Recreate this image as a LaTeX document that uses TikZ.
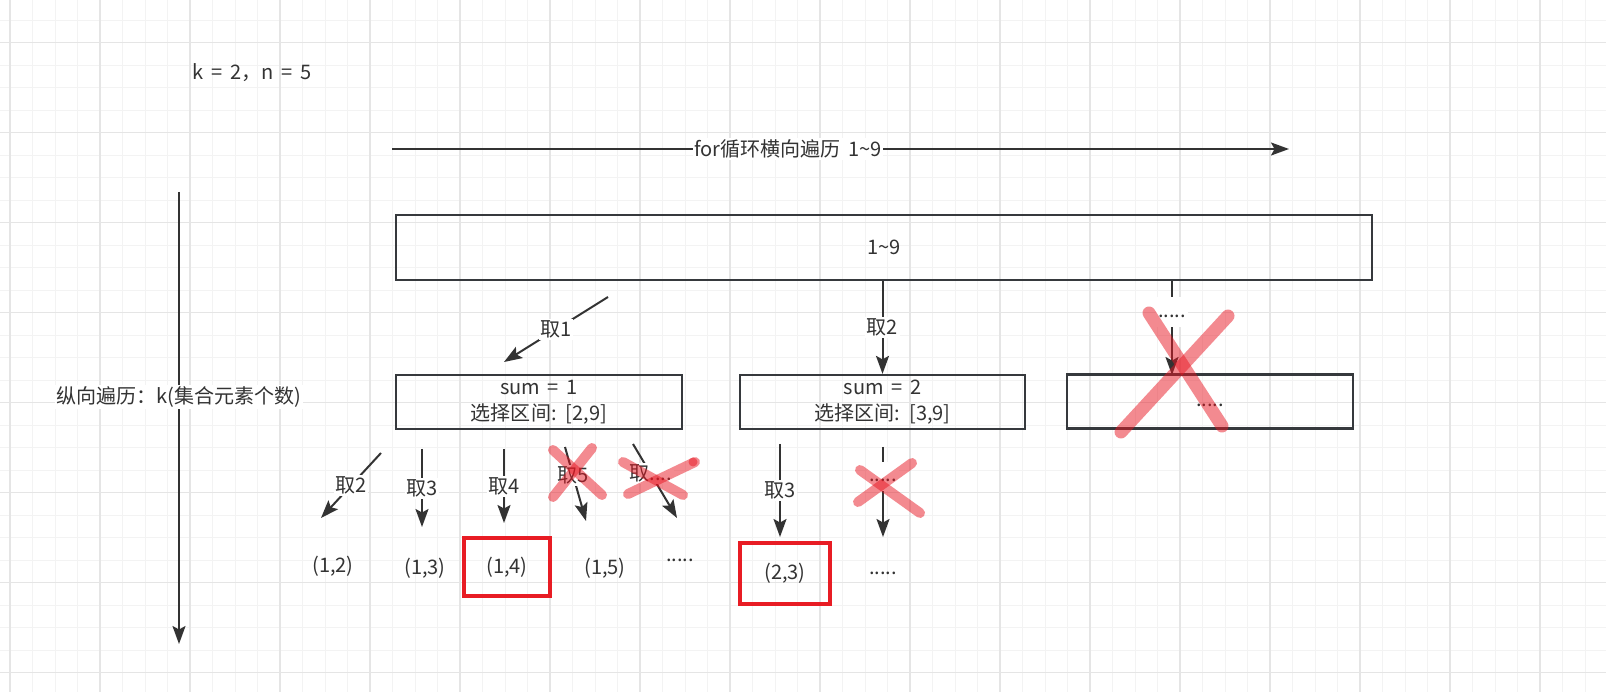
\documentclass[tikz,border=0pt]{standalone}
\usepackage{fontspec}
\setmainfont[WordSpace=1.7]{Noto Sans CJK SC}
\usetikzlibrary{arrows.meta}
\definecolor{InkGray}{RGB}{51,51,51}
\definecolor{EdgeGray}{RGB}{54,57,61}
\definecolor{GridLight}{RGB}{243,243,243}
\definecolor{GridMid}{RGB}{229,229,229}
\definecolor{MarkRed}{RGB}{232,28,36}
\definecolor{StrikeRed}{RGB}{232,22,34}

\begin{document}
\begin{tikzpicture}[x=0.02cm, y=-0.02cm, font=\fontsize{11.4}{14.8}\selectfont,
    box/.style={draw=EdgeGray, line width=0.045cm, minimum width=5.72cm, minimum height=1.08cm, align=center, inner sep=0pt, text=InkGray},
    chosen/.style={draw=MarkRed, line width=0.08cm, minimum width=1.72cm, minimum height=1.16cm, text=InkGray},
    result/.style={text=InkGray},
    flow/.style={draw=InkGray, line width=0.04cm, -{Stealth[length=0.36cm, width=0.26cm, inset=0.07cm]}},
    tag/.style={fill=white, inner sep=1pt, text=InkGray},
    strike/.style={draw=StrikeRed, draw opacity=0.5, line width=0.26cm, line cap=round},
    smallstrike/.style={strike, line width=0.2cm}]
  \useasboundingbox (0,0) rectangle (1606,692);
  \fill[white] (0,0) rectangle (1606,692);
  \foreach \i in {0,...,70}
    \draw[GridLight, line width=0.02cm] (10+22.5*\i,0) -- (10+22.5*\i,692);
  \foreach \j in {0,...,29}
    \draw[GridLight, line width=0.02cm] (0,20.2+22.5*\j) -- (1606,20.2+22.5*\j);
  \foreach \i in {0,...,17}
    \draw[GridMid, line width=0.03cm] (10+90*\i,0) -- (10+90*\i,692);
  \foreach \j in {0,...,7}
    \draw[GridMid, line width=0.03cm] (0,42.7+90*\j) -- (1606,42.7+90*\j);

  \node[result] (params) at (252,73) {k = 2，n = 5};

  \coordinate (acrossfrom) at (392,149);
  \coordinate (acrossto) at (1289,149);
  \draw[flow] (acrossfrom) -- node[tag, pos=0.4415] (acrosslbl) {for循环横向遍历 1\textasciitilde9} (acrossto);
  \coordinate (downfrom) at (179,192);
  \coordinate (downto) at (179,644);
  \draw[flow] (downfrom) -- node[tag, pos=0.4535] (downlbl) {纵向遍历：k(集合元素个数)} (downto);

  \node[box, minimum width=19.52cm, minimum height=1.3cm] (whole) at (884,247.5) {1\textasciitilde9};
  \node[box] (sumone) at (539,402) {sum = 1\\选择区间: [2,9]};
  \node[box, minimum width=5.7cm] (sumtwo) at (882.5,402) {sum = 2\\选择区间: [3,9]};
  \node[box] (sumrest) at (1210,401.5) {\strut.....};

  \coordinate (takeonefrom) at (608,297);
  \coordinate (takeoneto) at (504,362);
  \draw[flow] (takeonefrom) -- node[tag] {取1} (takeoneto);
  \draw[flow] (sumtwo.north |- whole.south) -- node[tag] {取2} (sumtwo.north);
  \coordinate (restto) at (1172,375);
  \draw[flow] (whole.south -| restto) -- node[tag, pos=0.33] {\strut.....} (restto);
  \draw[strike] (1149,313) -- (1222,426);
  \draw[strike] (1228,316) -- (1121,432);

  \coordinate (pairtwofrom) at (381,453);
  \coordinate (pairtwoto) at (321,518);
  \coordinate (pairthreefrom) at (422,449);
  \coordinate (pairthreeto) at (422,527);
  \coordinate (pairfourfrom) at (504,449);
  \coordinate (pairfourto) at (504,523);
  \coordinate (pairfivefrom) at (565,447);
  \coordinate (pairfiveto) at (586,521);
  \coordinate (pairmorefrom) at (633,444);
  \coordinate (pairmoreto) at (677,518);
  \coordinate (twothreefrom) at (780,444);
  \coordinate (twothreeto) at (780,537);
  \coordinate (twomorefrom) at (883,447);
  \coordinate (twomoreto) at (883,537);
  \draw[flow] (pairtwofrom) -- node[tag] {取2} (pairtwoto);
  \draw[flow] (pairthreefrom) -- node[tag] {取3} (pairthreeto);
  \draw[flow] (pairfourfrom) -- node[tag] {取4} (pairfourto);
  \draw[flow] (pairfivefrom) -- node[tag, pos=0.38] {取5} (pairfiveto);
  \draw[flow] (pairmorefrom) -- node[tag, pos=0.4] {取....} (pairmoreto);
  \draw[flow] (twothreefrom) -- node[tag] {取3} (twothreeto);
  \draw[flow] (twomorefrom) -- node[tag, pos=0.33] {\strut.....} (twomoreto);

  \node[result] (onetwo) at (333,566) {(1,2)};
  \node[result] (onethree) at (425,568) {(1,3)};
  \node[chosen] (onefour) at (507,567) {(1,4)};
  \node[result] (onefive) at (605,568) {(1,5)};
  \node[result] (onemore) at (680,560) {.....};
  \node[chosen, minimum width=1.8cm, minimum height=1.22cm] (twothree) at (785,573.5) {(2,3)};
  \node[result] (twomore) at (883,573) {.....};

  \draw[smallstrike] (553,450) -- (602,495);
  \draw[smallstrike] (592,448) -- (553,497);
  \draw[smallstrike] (623,462) -- (683,495);
  \draw[smallstrike] (695,462) -- (628,494);
  \fill[StrikeRed, fill opacity=0.5] (693,462) circle (0.09cm);
  \draw[smallstrike] (860,470) -- (920,513);
  \draw[smallstrike] (912,463) -- (858,502);
\end{tikzpicture}
\end{document}
